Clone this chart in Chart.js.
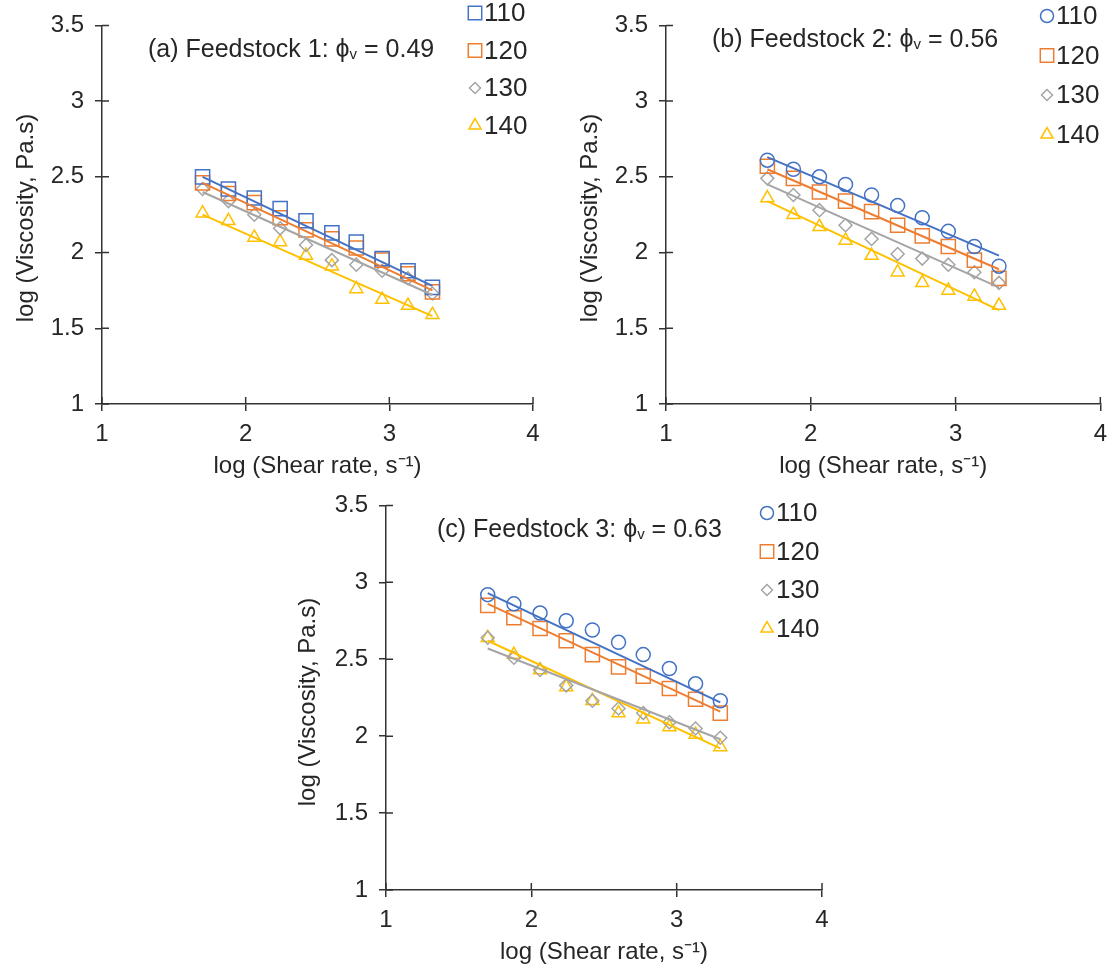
<!DOCTYPE html>
<html>
<head>
<meta charset="utf-8">
<script src="https://cdn.jsdelivr.net/npm/chart.js@4.4.0/dist/chart.umd.min.js"></script>
<style>
  body { margin: 0; background: #fff; width: 1116px; height: 968px; position: relative; overflow: hidden; }
  canvas { position: absolute; }
</style>
</head>
<body>
<canvas id="chartA" width="560" height="484" style="left:0;top:0"></canvas>
<canvas id="chartB" width="556" height="484" style="left:560px;top:0"></canvas>
<canvas id="chartC" width="560" height="488" style="left:280px;top:480px"></canvas>
<script>
// log shear rate (x) shared by all runs
const shearRate = [1.70, 1.88, 2.06, 2.24, 2.42, 2.60, 2.77, 2.95, 3.13, 3.30];
const fitX = [1.70, 3.30];
const temperatures = ['110', '120', '130', '140'];
const xTicks = [1, 2, 3, 4];
const yTicks = [1, 1.5, 2, 2.5, 3, 3.5];

// (a) Feedstock 1
const visc110a = [2.50, 2.42, 2.36, 2.29, 2.21, 2.13, 2.07, 1.96, 1.88, 1.77];
const visc120a = [2.46, 2.39, 2.33, 2.23, 2.15, 2.09, 2.03, 1.95, 1.86, 1.74];
const visc130a = [2.42, 2.34, 2.25, 2.16, 2.05, 1.95, 1.92, 1.88, 1.83, 1.73];
const visc140a = [2.26, 2.21, 2.10, 2.07, 1.98, 1.91, 1.76, 1.69, 1.65, 1.59];
const fit110a = [2.50, 1.78];
const fit120a = [2.46, 1.75];
const fit130a = [2.40, 1.72];
const fit140a = [2.25, 1.58];

// (b) Feedstock 2
const visc110b = [2.61, 2.55, 2.50, 2.45, 2.38, 2.31, 2.23, 2.14, 2.04, 1.91];
const visc120b = [2.57, 2.49, 2.40, 2.34, 2.27, 2.18, 2.11, 2.04, 1.95, 1.83];
const visc130b = [2.49, 2.38, 2.28, 2.18, 2.09, 1.99, 1.96, 1.92, 1.87, 1.80];
const visc140b = [2.36, 2.25, 2.17, 2.08, 1.98, 1.87, 1.80, 1.75, 1.71, 1.65];
const fit110b = [2.63, 1.98];
const fit120b = [2.55, 1.89];
const fit130b = [2.45, 1.77];
const fit140b = [2.34, 1.62];

// (c) Feedstock 3
const visc110c = [2.92, 2.86, 2.80, 2.75, 2.69, 2.61, 2.53, 2.44, 2.34, 2.23];
const visc120c = [2.85, 2.77, 2.70, 2.62, 2.53, 2.45, 2.39, 2.31, 2.24, 2.15];
const visc130c = [2.64, 2.51, 2.43, 2.33, 2.23, 2.18, 2.15, 2.09, 2.05, 1.99];
const visc140c = [2.64, 2.53, 2.43, 2.32, 2.23, 2.15, 2.11, 2.06, 2.01, 1.93];
const fit110c = [2.93, 2.22];
const fit120c = [2.86, 2.16];
const fit130c = [2.57, 1.98];
const fit140c = [2.62, 1.92];

const colors = ['#4472C4', '#ED7D31', '#A5A5A5', '#FFC000'];
const axisColor = '#333333';
const textColor = '#262626';
const FONT = '"Liberation Sans", Arial, sans-serif';
const markerRadius = { circle: 7, rect: 10, rectRot: 6.5, triangle: 7.5 };
const legendRadius = { circle: 6.5, rect: 9.5, rectRot: 5.5, triangle: 7 };

function pairs(xs, ys) {
  return xs.map((x, i) => ({ x: x, y: ys[i] }));
}

function drawMarker(ctx, style, r, x, y) {
  ctx.beginPath();
  if (style === 'circle') {
    ctx.arc(x, y, r, 0, Math.PI * 2);
  } else if (style === 'rect') {
    const s = r * Math.SQRT1_2;
    ctx.rect(x - s, y - s, 2 * s, 2 * s);
  } else if (style === 'rectRot') {
    ctx.moveTo(x, y - r); ctx.lineTo(x + r, y); ctx.lineTo(x, y + r); ctx.lineTo(x - r, y);
    ctx.closePath();
  } else {
    const h = r * Math.sqrt(3) / 2;
    ctx.moveTo(x, y - r); ctx.lineTo(x + h, y + r / 2); ctx.lineTo(x - h, y + r / 2);
    ctx.closePath();
  }
  ctx.stroke();
}

const decoPlugin = {
  id: 'deco',
  afterDraw(chart, args, opts) {
    const ctx = chart.ctx;
    const area = chart.chartArea;
    const xs = chart.scales.x, ys = chart.scales.y;
    ctx.save();
    // inner half of the crossing tick marks
    ctx.strokeStyle = axisColor;
    ctx.lineWidth = 1.5;
    ctx.beginPath();
    xs.ticks.forEach(t => {
      const px = xs.getPixelForValue(t.value);
      ctx.moveTo(px, area.bottom); ctx.lineTo(px, area.bottom - 7);
    });
    ys.ticks.forEach(t => {
      const py = ys.getPixelForValue(t.value);
      ctx.moveTo(area.left, py); ctx.lineTo(area.left + 7, py);
    });
    ctx.stroke();

    ctx.fillStyle = textColor;
    ctx.textBaseline = 'middle';

    // axis titles
    ctx.font = '24px ' + FONT;
    ctx.textAlign = 'center';
    ctx.fillText('log (Shear rate, s\u207B\u00B9)', (area.left + area.right) / 2, area.bottom + 62);
    ctx.save();
    ctx.translate(opts.yTitleX, opts.yTitleY);
    ctx.rotate(-Math.PI / 2);
    ctx.fillText('log (Viscosity, Pa.s)', 0, 0);
    ctx.restore();

    // panel title with subscript v
    ctx.textAlign = 'left';
    let x = opts.titleX;
    const y = opts.titleY;
    ctx.font = '25px ' + FONT;
    ctx.fillText(opts.titleHead, x, y);
    x += ctx.measureText(opts.titleHead).width;
    ctx.font = '15px ' + FONT;
    ctx.fillText('v', x, y + 5);
    x += ctx.measureText('v').width;
    ctx.font = '25px ' + FONT;
    ctx.fillText(opts.titleTail, x, y);

    // legend
    opts.styles.forEach((st, i) => {
      const ly = opts.legendY + i * opts.legendGap;
      ctx.strokeStyle = colors[i];
      ctx.lineWidth = 1.5;
      drawMarker(ctx, st, legendRadius[st], opts.legendX, ly);
      ctx.fillStyle = textColor;
      ctx.font = '26px ' + FONT;
      ctx.fillText(temperatures[i], opts.legendX + 9, ly + 1);
    });
    ctx.restore();
  }
};

function makePanel(id, series, fits, styles, geo, deco) {
  const datasets = [];
  series.forEach((vals, i) => {
    datasets.push({
      label: temperatures[i],
      data: pairs(shearRate, vals),
      showLine: false,
      pointStyle: styles[i],
      pointRadius: markerRadius[styles[i]],
      pointBorderWidth: 1.5,
      pointBorderColor: colors[i],
      pointBackgroundColor: 'rgba(0,0,0,0)',
      order: 2
    });
  });
  fits.forEach((vals, i) => {
    datasets.push({
      label: 'fit ' + temperatures[i],
      data: pairs(fitX, vals),
      showLine: true,
      borderColor: colors[i],
      borderWidth: 2,
      pointRadius: 0,
      order: 1
    });
  });

  const tickFont = { family: FONT, size: 24 };
  new Chart(document.getElementById(id), {
    type: 'scatter',
    data: { datasets: datasets },
    options: {
      responsive: false,
      animation: false,
      events: [],
      layout: { padding: geo.padding },
      plugins: {
        legend: { display: false },
        tooltip: { enabled: false },
        deco: deco
      },
      scales: {
        x: {
          type: 'linear',
          min: 1, max: 4,
          afterBuildTicks: s => { s.ticks = xTicks.map(v => ({ value: v })); },
          afterFit: s => { s.height = geo.xHeight; },
          ticks: { callback: v => String(v), font: tickFont, color: textColor, padding: 9, maxRotation: 0 },
          grid: { display: true, drawOnChartArea: false, drawTicks: true, tickLength: 7, color: axisColor, lineWidth: 1.5 },
          border: { display: true, color: axisColor, width: 1.5 }
        },
        y: {
          type: 'linear',
          min: 1, max: 3.5,
          afterBuildTicks: s => { s.ticks = yTicks.map(v => ({ value: v })); },
          afterFit: s => { s.width = geo.yWidth; },
          ticks: { callback: v => String(v), font: tickFont, color: textColor, padding: 11 },
          grid: { display: true, drawOnChartArea: false, drawTicks: true, tickLength: 7, color: axisColor, lineWidth: 1.5 },
          border: { display: true, color: axisColor, width: 1.5 }
        }
      }
    },
    plugins: [decoPlugin]
  });
}

makePanel('chartA',
  [visc110a, visc120a, visc130a, visc140a],
  [fit110a, fit120a, fit130a, fit140a],
  ['rect', 'rect', 'rectRot', 'triangle'],
  { padding: { left: 0, top: 17, right: 27, bottom: 0 }, yWidth: 102, xHeight: 80 },
  { titleHead: '(a) Feedstock 1: \u03D5', titleTail: ' = 0.49', titleX: 148, titleY: 50,
    yTitleX: 26, yTitleY: 218,
    styles: ['rect', 'rect', 'rectRot', 'triangle'], legendX: 475, legendY: 13, legendGap: 37.5 });

makePanel('chartB',
  [visc110b, visc120b, visc130b, visc140b],
  [fit110b, fit120b, fit130b, fit140b],
  ['circle', 'rect', 'rectRot', 'triangle'],
  { padding: { left: 0, top: 17, right: 14, bottom: 0 }, yWidth: 106, xHeight: 80 },
  { titleHead: '(b) Feedstock 2: \u03D5', titleTail: ' = 0.56', titleX: 152, titleY: 40,
    yTitleX: 30, yTitleY: 218,
    styles: ['circle', 'rect', 'rectRot', 'triangle'], legendX: 487, legendY: 16, legendGap: 39.5 });

makePanel('chartC',
  [visc110c, visc120c, visc130c, visc140c],
  [fit110c, fit120c, fit130c, fit140c],
  ['circle', 'rect', 'rectRot', 'triangle'],
  { padding: { left: 0, top: 22, right: 18, bottom: 0 }, yWidth: 106, xHeight: 78 },
  { titleHead: '(c) Feedstock 3: \u03D5', titleTail: ' = 0.63', titleX: 157, titleY: 50,
    yTitleX: 28, yTitleY: 222,
    styles: ['circle', 'rect', 'rectRot', 'triangle'], legendX: 487, legendY: 33, legendGap: 38.5 });
</script>
</body>
</html>
